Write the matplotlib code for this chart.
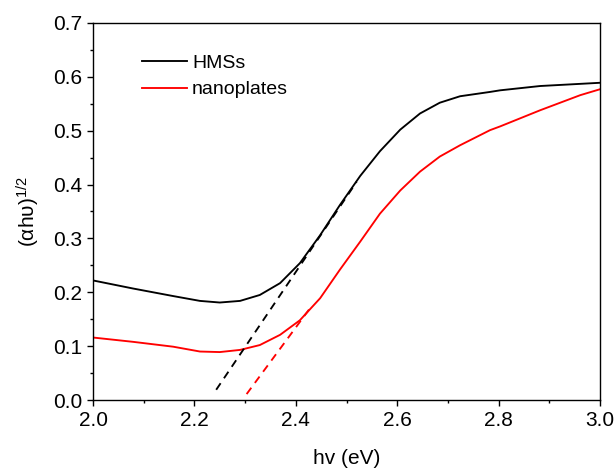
import matplotlib
matplotlib.use('Agg')
import matplotlib.pyplot as plt
from matplotlib.ticker import MultipleLocator, FormatStrFormatter

plt.rcParams['font.family'] = ['Liberation Sans', 'DejaVu Sans']
plt.rcParams['mathtext.default'] = 'regular'

# photon energy (eV)
hv = [2.000, 2.079, 2.158, 2.211, 2.250, 2.290, 2.329, 2.369, 2.408,
      2.448, 2.487, 2.527, 2.566, 2.606, 2.645, 2.684, 2.724, 2.783,
      2.803, 2.882, 2.961, 3.000]
# (alpha h nu)^1/2
hmss = [0.222, 0.207, 0.193, 0.184, 0.181, 0.184, 0.195, 0.217, 0.254,
        0.306, 0.362, 0.416, 0.462, 0.502, 0.532, 0.552, 0.564, 0.572,
        0.575, 0.583, 0.587, 0.589]
nanoplates = [0.116, 0.108, 0.099, 0.090, 0.089, 0.093, 0.102, 0.121,
              0.148, 0.189, 0.242, 0.294, 0.346, 0.389, 0.424, 0.452,
              0.473, 0.501, 0.508, 0.538, 0.566, 0.577]

# linear extrapolations (Tauc fits)
fit_hmss_x = [2.243, 2.52]
fit_hmss_y = [0.019, 0.405]
fit_nano_x = [2.303, 2.43]
fit_nano_y = [0.011, 0.173]

fig = plt.figure(figsize=(6.15, 4.68), dpi=100)
ax = fig.add_axes([93 / 615, 68 / 468, 507 / 615, 377 / 468])

ax.plot(hv, hmss, color='black', lw=1.35, label='HMSs')
ax.plot(hv, nanoplates, color='#ff0000', lw=1.35, label='nanoplates')
ax.plot(fit_hmss_x, fit_hmss_y, color='black', lw=1.35, ls=(0, (4.2, 3.2)))
ax.plot(fit_nano_x, fit_nano_y, color='#ff0000', lw=1.35, ls=(0, (4.2, 3.2)))

ax.set_xlim(2.0, 3.0)
ax.set_ylim(0.0, 0.7)
ax.xaxis.set_major_locator(MultipleLocator(0.2))
ax.xaxis.set_minor_locator(MultipleLocator(0.1))
ax.yaxis.set_major_locator(MultipleLocator(0.1))
ax.yaxis.set_minor_locator(MultipleLocator(0.05))
ax.xaxis.set_major_formatter(FormatStrFormatter('%.1f'))
ax.yaxis.set_major_formatter(FormatStrFormatter('%.1f'))
ax.tick_params(which='major', direction='out', length=4.3, width=1.0,
               labelsize=15, top=False, right=False, pad=3.5)
ax.tick_params(which='minor', direction='out', length=2.5, width=1.0,
               top=False, right=False)
for sp in ax.spines.values():
    sp.set_linewidth(1.0)

ax.set_xlabel('hv (eV)', fontsize=15, labelpad=13.5)
ax.set_ylabel('(αhυ)$^{1/2}$', fontsize=15, labelpad=8)

ax.legend(loc='upper left', bbox_to_anchor=(0.097, 0.917), frameon=False,
          fontsize=14, handlelength=2.3, handletextpad=0.26,
          labelspacing=0.46, borderpad=0, borderaxespad=0)

fig.savefig('out.png', dpi=100)
